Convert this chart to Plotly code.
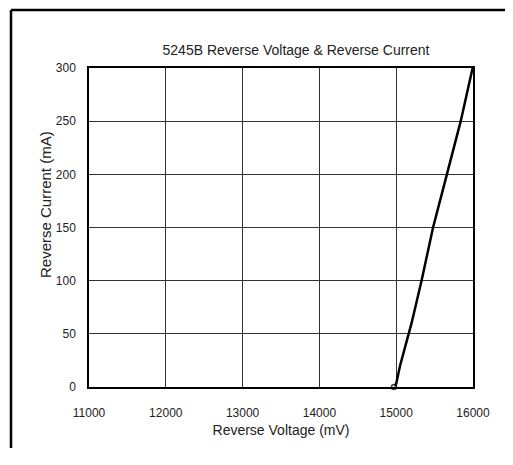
import plotly.graph_objects as go

# reverse voltage (mV) vs reverse current (mA)
voltage = [14970, 15000, 15050, 15120, 15200, 15330, 15480, 15660, 15840, 15995]
current = [0, 3, 20, 40, 60, 100, 150, 200, 250, 300]
marker_sizes = [5, 0, 0, 0, 0, 0, 0, 0, 0, 0]

x_ticks = [11000, 12000, 13000, 14000, 15000, 16000]
x_labels = ["11000", "12000", "13000", "14000", "15000", "16000"]
y_ticks = [0, 50, 100, 150, 200, 250, 300]

font = dict(family="Liberation Sans, Arial, sans-serif", size=12, color="#222")

# page body has an 8px margin all round; keep the figure inside the window
W, H = 497, 440
L, T, R, B = 81, 60, 32, 61
pw, ph = W - L - R, H - T - B

fig = go.Figure()
fig.add_trace(go.Scatter(
    x=voltage, y=current, mode="lines+markers",
    line=dict(color="black", width=2.5),
    marker=dict(size=marker_sizes, color="white", line=dict(color="black", width=1.5)),
    showlegend=False, cliponaxis=False,
))

# outer frame: only the left and top edges show in the picture
fx0, fy1 = (3 - L) / pw, 1 + (T - 2) / ph
fx1, fy0 = (W - L) / pw, -B / ph
frame = dict(color="black", width=2.5)

fig.update_layout(
    width=W, height=H,
    margin=dict(l=L, r=R, t=T, b=B),
    paper_bgcolor="white", plot_bgcolor="white",
    font=font,
    title=dict(text="5245B Reverse Voltage & Reverse Current",
               x=288 / W, xanchor="center", y=1 - 42 / H, yanchor="middle",
               font=dict(size=14, color="#222")),
    xaxis=dict(range=[11000, 16000], tickvals=x_ticks, ticktext=x_labels, showgrid=True,
               gridcolor="#333", gridwidth=1, showline=True, linecolor="black",
               linewidth=1.5, mirror=True, ticks="", ticklabelstandoff=14,
               zeroline=False,
               title=dict(text="Reverse Voltage (mV)", standoff=6,
                          font=dict(size=14, color="#222"))),
    yaxis=dict(range=[0, 300], tickvals=y_ticks, showgrid=True,
               gridcolor="#333", gridwidth=1, showline=True, linecolor="black",
               linewidth=1.5, mirror=True, ticks="", ticklabelstandoff=9,
               zeroline=False),
    annotations=[dict(text="Reverse Current (mA)", xref="paper", yref="paper",
                      x=(37 - L) / pw, y=(379 - 197) / ph, textangle=-90,
                      showarrow=False, xanchor="center", yanchor="middle",
                      font=dict(size=15, color="#222"))],
    shapes=[
        dict(type="line", xref="paper", yref="paper",
             x0=fx0, x1=fx0, y0=fy0, y1=fy1, line=frame, layer="below"),
        dict(type="line", xref="paper", yref="paper",
             x0=fx0, x1=fx1, y0=fy1, y1=fy1, line=frame, layer="below"),
    ],
)

fig.write_html("out.html")
